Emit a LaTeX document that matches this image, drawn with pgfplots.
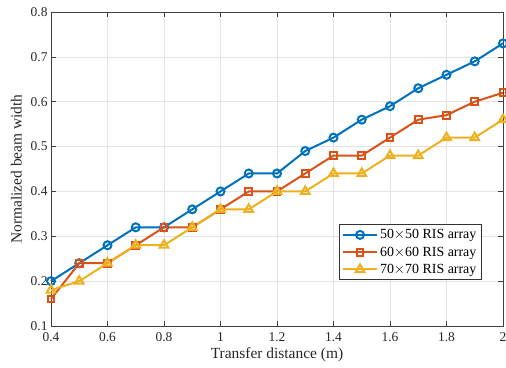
\documentclass[border=0pt]{standalone}
\usepackage{fontspec}
\setmainfont{Liberation Serif}
\usepackage{pgfplots}
\pgfplotsset{compat=1.18}
\definecolor{mblue}{rgb}{0,0.447,0.741}
\definecolor{mred}{rgb}{0.85,0.325,0.098}
\definecolor{myel}{rgb}{0.929,0.694,0.125}
\begin{document}
\begin{tikzpicture}[x=1bp,y=1bp]
\begin{axis}[name=ax,
  at={(0,0)}, anchor=south west,
  width=452bp, height=314bp, scale only axis,
  xmin=0.4, xmax=2, ymin=0.1, ymax=0.8,
  xtick={0.4,0.6,...,2.01}, ytick={0.1,0.2,...,0.81},
  xticklabels={0.4,0.6,0.8,1,1.2,1.4,1.6,1.8,2},
  yticklabels={0.1,0.2,0.3,0.4,0.5,0.6,0.7,0.8},
  tick align=inside, tick pos=both,
  major tick length=5bp,
  grid=major, grid style={gray!22, line width=0.6bp},
  axis line style={black!75, line width=0.7bp},
  tick style={black!75, line width=0.7bp},
  ticklabel style={font=\fontsize{13.5}{15}\selectfont, text=black!85},
  xticklabel style={yshift=-3bp},
  label style={font=\fontsize{15.5}{17}\selectfont, text=black!85},
  xlabel={Transfer distance (m)},
  ylabel={Normalized beam width},
  xlabel style={yshift=1bp},
  ylabel style={yshift=2bp},
  legend style={at={(0.953,0.146)}, anchor=south east, font=\fontsize{14}{15}\selectfont,
    draw=black!80, line width=0.7bp, inner sep=3bp, row sep=2.5bp},
  legend image code/.code={\draw[#1] (0bp,0bp) -- (16bp,0bp) -- (34bp,0bp); \draw[#1, mark repeat=2, mark phase=2] plot coordinates {(0bp,0bp)(17bp,0bp)(34bp,0bp)};},
  legend cell align=left,
  every axis plot/.append style={line width=2bp},
  clip=false,
]
\addplot[mblue, mark=o, mark size=4bp, mark options={line width=2bp}] coordinates {
(0.4,0.20)(0.5,0.24)(0.6,0.28)(0.7,0.32)(0.8,0.32)(0.9,0.36)(1.0,0.40)(1.1,0.44)(1.2,0.44)
(1.3,0.49)(1.4,0.52)(1.5,0.56)(1.6,0.59)(1.7,0.63)(1.8,0.66)(1.9,0.69)(2.0,0.73)};
\addlegendentry{50$\times$50 RIS array}
\addplot[mred, mark=square, mark size=3.4bp, mark options={line width=2bp}] coordinates {
(0.4,0.16)(0.5,0.24)(0.6,0.24)(0.7,0.28)(0.8,0.32)(0.9,0.32)(1.0,0.36)(1.1,0.40)(1.2,0.40)
(1.3,0.44)(1.4,0.48)(1.5,0.48)(1.6,0.52)(1.7,0.56)(1.8,0.57)(1.9,0.60)(2.0,0.62)};
\addlegendentry{60$\times$60 RIS array}
\addplot[myel, mark=triangle, mark size=5bp, mark options={line width=2bp}] coordinates {
(0.4,0.18)(0.5,0.20)(0.6,0.24)(0.7,0.28)(0.8,0.28)(0.9,0.32)(1.0,0.36)(1.1,0.36)(1.2,0.40)
(1.3,0.40)(1.4,0.44)(1.5,0.44)(1.6,0.48)(1.7,0.48)(1.8,0.52)(1.9,0.52)(2.0,0.56)};
\addlegendentry{70$\times$70 RIS array}
\end{axis}
\pgfresetboundingbox
\path[use as bounding box] ([shift={(-51bp,-42bp)}]ax.south west) rectangle ([shift={(3bp,12bp)}]ax.north east);
\end{tikzpicture}
\end{document}
